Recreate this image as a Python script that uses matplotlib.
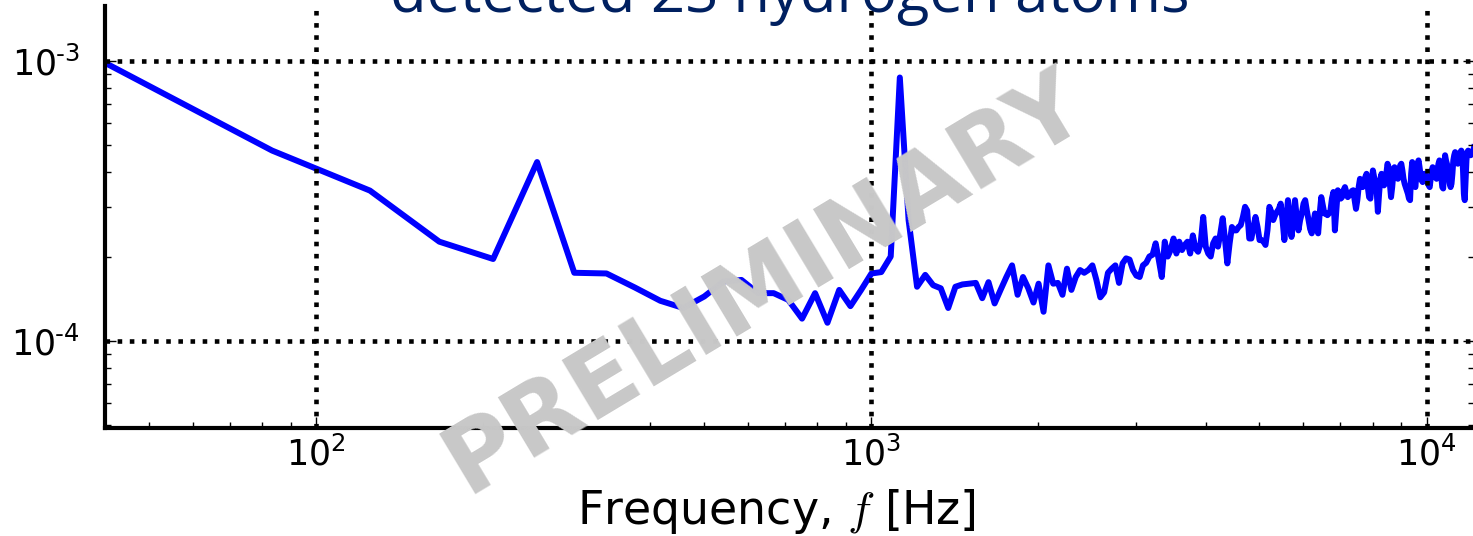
import numpy as np
import matplotlib
matplotlib.use("Agg")
import matplotlib.pyplot as plt
from matplotlib.ticker import FuncFormatter


# spectrum bins are evenly spaced, bin k sits at k * BIN_WIDTH
BIN_WIDTH = 41.7  # Hz

# PSD, in units of 1e-4, one value per bin starting at bin 1
psd_low = [
    9.84, 4.78, 3.44, 2.26, 1.96, 4.35, 1.75, 1.74, 1.55, 1.39,
    1.31, 1.44, 1.63, 1.65, 1.48, 1.48, 1.40, 1.20, 1.48, 1.16,
    1.52, 1.33, 1.52, 1.74, 1.76, 2.00, 8.72, 2.70,
]
psd_mid = [  # bins 29 - 86
    1.56, 1.72, 1.58, 1.54, 1.31, 1.56, 1.59, 1.60, 1.61, 1.42,
    1.62, 1.36, 1.52, 1.69, 1.86, 1.46, 1.69, 1.54, 1.37, 1.60,
    1.27, 1.86, 1.60, 1.61, 1.46, 1.81, 1.52, 1.69, 1.79, 1.75,
    1.79, 1.86, 1.65, 1.43, 1.49, 1.75, 1.81, 1.86, 1.61, 1.89,
    1.97, 1.95, 1.79, 1.71, 1.69, 1.86, 1.90, 2.00, 2.03, 2.23,
    1.95, 1.69, 2.26, 2.00, 2.11, 2.32, 2.05, 2.26,
]
psd_high = [  # bins 87 - 292
    2.11, 2.20, 2.26, 2.05, 2.38, 2.14, 2.08, 2.23, 2.77, 2.17,
    2.05, 2.00, 2.23, 2.32, 2.17, 2.42, 2.74, 2.29, 1.89, 2.23,
    2.55, 2.48, 2.48, 2.55, 2.59, 2.77, 3.01, 2.92, 2.32, 2.32,
    2.55, 2.77, 2.55, 2.29, 2.29, 2.26, 2.20, 2.48, 3.01, 2.89,
    2.70, 2.81, 2.89, 2.96, 3.09, 2.70, 2.29, 2.70, 3.18, 2.70,
    2.35, 2.70, 3.18, 2.77, 2.48, 2.70, 2.85, 3.09, 3.18, 2.92,
    2.70, 2.51, 2.42, 2.62, 2.85, 2.62, 2.42, 2.85, 3.26, 3.05,
    2.85, 2.85, 2.81, 2.85, 2.92, 3.22, 3.40, 2.48, 2.92, 3.45,
    3.30, 3.22, 3.26, 3.45, 3.54, 3.40, 3.26, 3.30, 3.35, 3.43,
    3.45, 3.18, 2.96, 3.18, 3.54, 3.79, 3.64, 3.54, 3.69, 3.84,
    3.95, 3.54, 3.26, 3.22, 3.64, 4.06, 3.84, 3.59, 3.45, 2.89,
    3.35, 3.79, 3.95, 3.74, 3.59, 3.64, 3.95, 4.29, 4.17, 3.64,
    3.26, 3.54, 3.95, 4.17, 4.06, 3.90, 3.79, 4.00, 4.23, 4.29,
    4.06, 3.79, 3.64, 3.54, 3.45, 3.35, 3.22, 3.18, 3.95, 4.35,
    4.06, 3.64, 3.54, 3.95, 4.29, 4.41, 4.17, 3.90, 3.74, 3.69,
    3.84, 3.95, 3.90, 3.84, 3.69, 3.59, 3.54, 3.79, 4.06, 4.17,
    4.11, 3.95, 3.84, 3.79, 4.06, 4.29, 4.41, 4.23, 3.84, 3.54,
    3.50, 4.17, 4.60, 4.41, 4.29, 4.17, 3.90, 3.64, 3.54, 3.64,
    3.95, 4.41, 4.60, 4.72, 4.66, 4.41, 4.29, 4.41, 4.60, 4.72,
    4.78, 4.66, 4.06, 3.35, 3.18, 3.74, 4.41, 4.72, 4.78, 4.72,
    4.66, 4.60, 4.66, 4.72, 4.78, 4.91,
]

TITLE = "detected 2S hydrogen atoms"
XLABEL = r"Frequency, $f$ [Hz]"
WATERMARK = "PRELIMINARY"

Y_LIMITS = (4.87e-5, 1.57e-3)

plt.rcParams["font.family"] = "DejaVu Sans"
plt.rcParams["mathtext.fontset"] = "cm"   # gives the italic f in the label


def pow10_label(val, pos):
    # short hyphen in the exponent, like the original labels
    e = int(round(np.log10(val)))
    sign = r"\text{-}" if e < 0 else ""
    return r"$\mathdefault{10^{%s%d}}$" % (sign, abs(e))


def plot_psd(outfile="out.png"):
    psd = np.array(psd_low + psd_mid + psd_high) * 1e-4
    freq = BIN_WIDTH * np.arange(1, len(psd) + 1)

    W, H = 1473, 536
    fig = plt.figure(figsize=(W / 100, H / 100), dpi=100)
    # axes box in pixels: left 105, right 1474 (just off the picture), top 6, bottom 428
    ax = fig.add_axes([105 / W, 1 - 428.3 / H, (1474 - 105) / W, (428.3 - 6) / H])

    ax.plot(freq, psd, color="#0000ff", lw=4.3, zorder=2)

    ax.set_xscale("log")
    ax.set_yscale("log")
    ax.set_xlim(freq[0], freq[-1])
    ax.set_ylim(*Y_LIMITS)
    ax.yaxis.set_major_formatter(FuncFormatter(pow10_label))

    ax.set_axisbelow(False)   # dotted grid is drawn over the trace
    ax.grid(True, which="major", color="black", linestyle=":", linewidth=3.3)

    for side in ["top", "right"]:
        ax.spines[side].set_visible(False)
    for side in ["left", "bottom"]:
        ax.spines[side].set_linewidth(3)

    ax.tick_params(which="both", direction="in", top=False, right=True, width=1, colors="black")
    ax.tick_params(which="major", length=8)
    ax.tick_params(which="minor", length=4)
    ax.tick_params(axis="x", which="major", labelsize=25, pad=6)
    ax.tick_params(axis="y", which="major", labelsize=25, pad=18)

    ax.set_xlabel(XLABEL, fontsize=33)
    ax.xaxis.set_label_coords(0.49, -0.14)

    # slide title, only its lower part is inside the picture
    fig.text(790 / W, 1 - 12 / H, TITLE, ha="center", va="baseline",
             fontsize=43, color="#002060", family="Open Sans")

    fig.text(765 / W, 1 - 283 / H, WATERMARK, ha="center", va="center",
             rotation=31, rotation_mode="anchor", fontsize=69,
             fontweight="bold", color="#c8c8c8", zorder=10)

    fig.savefig(outfile, dpi=100)


plot_psd()
